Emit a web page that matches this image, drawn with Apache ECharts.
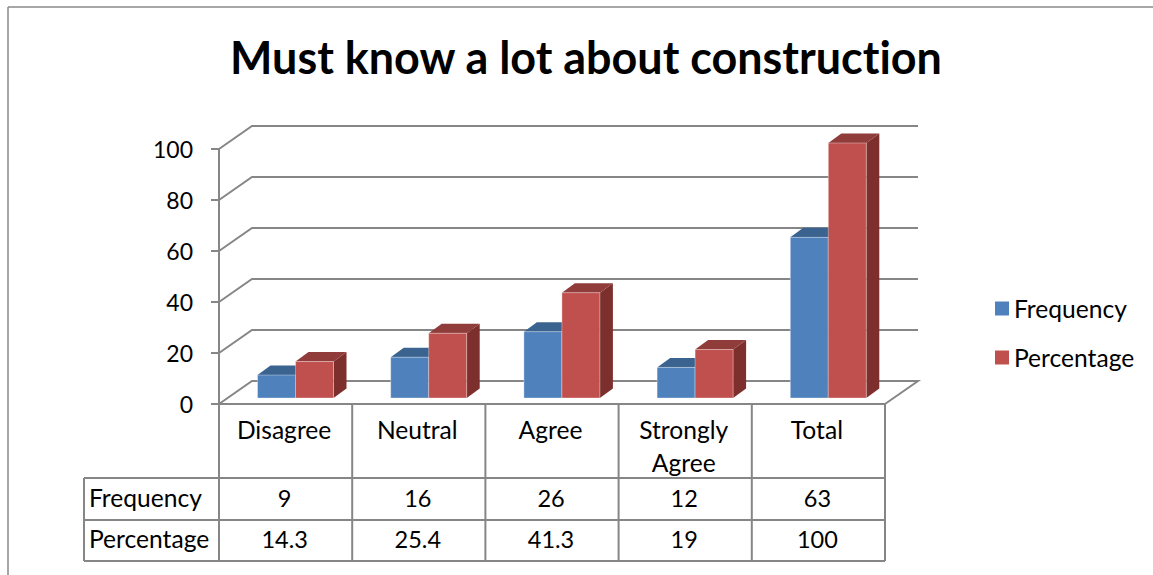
<!DOCTYPE html>
<html><head><meta charset="utf-8">
<style>html,body{margin:0;padding:0;background:#fff}#c{width:1153px;height:575px}
svg text,svg tspan{font-variant-ligatures:none;font-feature-settings:"liga" 0,"clig" 0}</style>
<script src="https://cdn.jsdelivr.net/npm/echarts@6/dist/echarts.min.js"></script>
</head><body><div id="c"></div>
<script>
const categories = ['Disagree','Neutral','Agree','Strongly\nAgree','Total'];
const frequency = [9,16,26,12,63];
const percentage = [14.3,25.4,41.3,19,100];
const frequencyText = ['9','16','26','12','63'];
const percentageText = ['14.3','25.4','41.3','19','100'];
const yTicks = [0,20,40,60,80,100];

const FONT = 'Lato, "Open Sans", sans-serif';
const GRID = {left:219, top:149, width:666, height:255};
const GREY = '#868686';
const WALL = {dx:33, dy:-23};
const BAR = {width:38, shiftX:9.9, shiftY:-6, sideX:13, sideY:-9.5};
const colors = {
  Frequency:{front:'#4F81BD', top:'#3B6390', side:'#2F4F75'},
  Percentage:{front:'#C0504D', top:'#8F3C3A', side:'#7C2F2D'}
};

function barSeries(name, values, dir, z){
  const c = colors[name];
  return {
    type:'custom', name, z, coordinateSystem:'cartesian2d',
    itemStyle:{color:c.front},
    data: values.map((v,i)=>[i,v]),
    encode:{x:0,y:1},
    renderItem(params, api){
      const base = api.coord([api.value(0),0]);
      const top = api.coord([api.value(0),api.value(1)]);
      const cx = base[0]+BAR.shiftX;
      const x0 = dir<0 ? cx-BAR.width : cx;
      const x1 = x0+BAR.width;
      const yb = base[1]+BAR.shiftY;
      const yt = top[1]+BAR.shiftY;
      const sx = BAR.sideX, sy = BAR.sideY;
      return {type:'group', children:[
        {type:'polygon', shape:{points:[[x1,yt],[x1+sx,yt+sy],[x1+sx,yb+sy],[x1,yb]]}, style:{fill:c.side}},
        {type:'polygon', shape:{points:[[x0,yt],[x0+sx,yt+sy],[x1+sx,yt+sy],[x1,yt]]}, style:{fill:c.top}},
        {type:'rect', shape:{x:x0,y:yt,width:BAR.width,height:yb-yt}, style:{fill:c.front, stroke:'rgba(255,255,255,0.35)', lineWidth:1}}
      ]};
    }
  };
}

const wallSeries = {
  type:'custom', z:1, silent:true,
  data: yTicks.map(v=>[0,v]),
  encode:{x:0,y:1},
  renderItem(params, api){
    const p = api.coord([0,api.value(1)]);
    const fx = GRID.left, y = p[1];
    const bx = fx+WALL.dx, by = y+WALL.dy, ex = GRID.left+GRID.width+WALL.dx;
    const pts = [[fx,y],[bx,by],[ex,by]];
    if (api.value(1)===0) pts.push([GRID.left+GRID.width,y]);
    return {type:'polyline', shape:{points:pts}, style:{fill:'none', stroke:GREY, lineWidth:2}};
  }
};

const graphics = [];
function line(x1,y1,x2,y2,lw,col){
  graphics.push({type:'line', z:5, silent:true, shape:{x1,y1,x2,y2}, style:{stroke:col||GREY, lineWidth:lw||2}});
}
function text(x,y,t,align,size){
  graphics.push({type:'text', z:6, silent:true, x, y, style:{text:t, fill:'#000', font:(size||23.5)+'px '+FONT, textAlign:align||'center', textVerticalAlign:'middle'}});
}
// outer frame
line(8,7,1153,7,1.5,'#8a8a8a');
line(8,7,8,575,1.5,'#8a8a8a');
// table rules
const cw = GRID.width/categories.length, R1=478, R2=520, R3=561, AX=GRID.top+GRID.height;
for(let i=0;i<=categories.length;i++){ const x=GRID.left+i*cw; line(x,AX,x,R3); }
line(84,R1,GRID.left+GRID.width,R1);
line(84,R2,GRID.left+GRID.width,R2);
line(84,R3,GRID.left+GRID.width,R3);
line(84,R1,84,R3);
text(89,497,'Frequency','left',24.6);
text(89,538,'Percentage','left',24.6);
categories.forEach((c,i)=>{
  const x=GRID.left+(i+.5)*cw-1;
  text(x,497.5,frequencyText[i]);
  text(x,539,percentageText[i]);
});

const chart = echarts.init(document.getElementById('c'),null,{renderer:'svg'});
chart.setOption({
  animation:false,
  backgroundColor:'#fff',
  title:{text:'Must know a lot about construction', left:581, top:29, textAlign:'center',
    textStyle:{fontFamily:FONT, fontSize:44.9, fontWeight:'bold', color:'#000'}},
  legend:{orient:'vertical', left:990, top:291, itemWidth:14, itemHeight:14, itemGap:24, icon:'rect',
    data:['Frequency','Percentage'],
    textStyle:{fontFamily:FONT, fontSize:24.6, color:'#000'}},
  grid:GRID,
  xAxis:{type:'category', data:categories, axisLine:{lineStyle:{color:GREY,width:2}}, axisTick:{show:false},
    axisLabel:{fontFamily:FONT, fontSize:24.6, color:'#000', margin:9, lineHeight:33, interval:0, padding:[0,3,0,0]}},
  yAxis:{type:'value', min:0, max:100, interval:20, splitLine:{show:false},
    axisLine:{show:true,lineStyle:{color:GREY,width:2}},
    axisTick:{show:true,length:8,lineStyle:{color:GREY,width:2}},
    axisLabel:{fontFamily:FONT, fontSize:23, color:'#000', margin:26, padding:[7,0,0,0]}},
  graphic:graphics,
  series:[wallSeries, barSeries('Frequency',frequency,-1,2), barSeries('Percentage',percentage,1,3)]
});
</script></body></html>
